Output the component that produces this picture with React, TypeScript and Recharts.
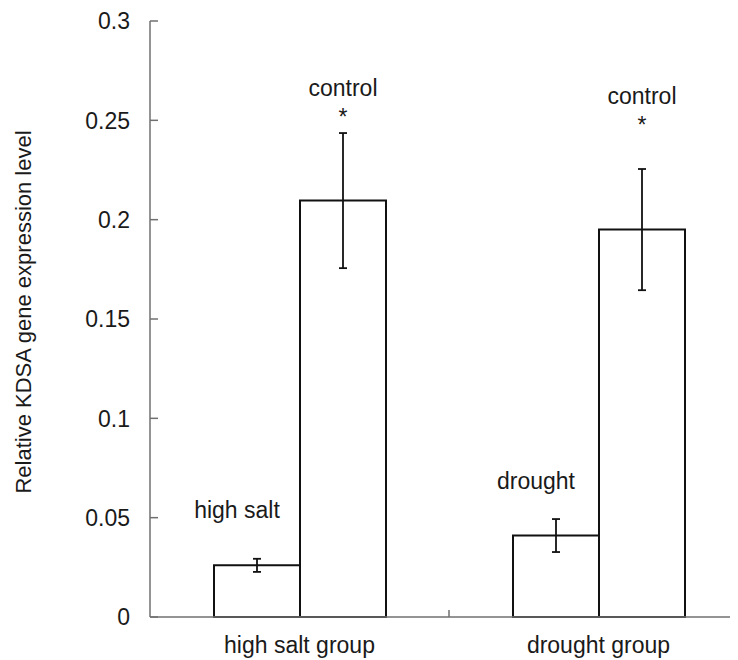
import React from "react";
import { BarChart, Bar, XAxis, YAxis, ErrorBar, LabelList } from "recharts";

const categories = ["high salt group", "drought group"];
const treatmentValues = [0.026, 0.041];
const treatmentErrors = [0.0033, 0.0083];
const controlValues = [0.2096, 0.195];
const controlErrors = [0.034, 0.0305];
const treatmentLabels = ["high salt", "drought"];
const controlLabels = ["control", "control"];
// where the "control" annotation sits (data units)
const controlLabelLevels = [0.262, 0.258];
const yTicks = [0, 0.05, 0.1, 0.15, 0.2, 0.25, 0.3];

const data = categories.map((name, i) => ({
  name,
  treatment: treatmentValues[i],
  treatmentErr: treatmentErrors[i],
  control: controlValues[i],
  controlErr: controlErrors[i],
}));

const FONT = "'Liberation Sans', Arial, sans-serif";
const TEXT = "#1a1a1a";
const AXIS = "#707070";
const INK = "#111";

const CHART_W = 760;
const CHART_H = 650;
const Y_W = 142;
const RIGHT = 20;
const HALF_BAND = (CHART_W - Y_W - RIGHT) / categories.length / 2;

const YTick = ({ x, y, payload }: any) => (
  <g>
    <line x1={x} x2={x + 8} y1={y} y2={y} stroke={AXIS} strokeWidth={1.5} />
    <text x={x - 20} y={y} dy="0.36em" textAnchor="end" fontSize={23} fontFamily={FONT} fill={TEXT}>
      {String(payload.value)}
    </text>
  </g>
);

const XTick = ({ x, y, payload }: any) => (
  <g>
    <line x1={x + HALF_BAND} x2={x + HALF_BAND} y1={y} y2={y - 7} stroke={AXIS} strokeWidth={1.5} />
    <text x={x} y={y + 36} textAnchor="middle" fontSize={23} fontFamily={FONT} fill={TEXT}>
      {payload.value}
    </text>
  </g>
);

const TreatmentLabel = ({ x, y, width, index }: any) => (
  <text x={x + width / 2 - 20} y={y - 47} textAnchor="middle" fontSize={23} fontFamily={FONT} fill={TEXT}>
    {treatmentLabels[index]}
  </text>
);

const ControlLabel = ({ x, y, width, height, value, index }: any) => {
  const base = y + height;
  const ly = base - (controlLabelLevels[index] * height) / value;
  const cx = x + width / 2;
  return (
    <g>
      <text x={cx} y={ly} textAnchor="middle" fontSize={23} fontFamily={FONT} fill={TEXT}>
        {controlLabels[index]}
      </text>
      <text x={cx} y={ly + 29} textAnchor="middle" fontSize={23} fontFamily={FONT} fill={TEXT}>
        *
      </text>
    </g>
  );
};

export default function App() {
  return (
    <div style={{ width: 730, height: CHART_H, overflow: "hidden", background: "#fff" }}>
      <BarChart
        width={CHART_W}
        height={CHART_H}
        data={data}
        margin={{ top: 13, right: RIGHT, left: 0, bottom: 0 }}
        barGap={0}
        barCategoryGap={64}
      >
        <XAxis
          dataKey="name"
          height={41}
          axisLine={{ stroke: AXIS, strokeWidth: 1.5 }}
          tickLine={false}
          tickSize={0}
          tickMargin={0}
          tick={<XTick />}
          interval={0}
        />
        <YAxis
          width={Y_W}
          domain={[0, 0.3]}
          ticks={yTicks}
          interval={0}
          axisLine={{ stroke: AXIS, strokeWidth: 1.5 }}
          tickLine={false}
          tickSize={0}
          tickMargin={0}
          tick={<YTick />}
          label={{
            content: () => (
              <text
                x={23}
                y={304}
                transform="rotate(-90, 23, 304)"
                textAnchor="middle"
                fontSize={22}
                fontFamily={FONT}
                fill={TEXT}
              >
                Relative KDSA gene expression level
              </text>
            ),
          }}
        />
        <Bar dataKey="treatment" fill="#fff" stroke={INK} strokeWidth={2} isAnimationActive={false}>
          <ErrorBar dataKey="treatmentErr" width={4} stroke={INK} strokeWidth={1.8} />
          <LabelList dataKey="treatment" content={<TreatmentLabel />} />
        </Bar>
        <Bar dataKey="control" fill="#fff" stroke={INK} strokeWidth={2} isAnimationActive={false}>
          <ErrorBar dataKey="controlErr" width={4} stroke={INK} strokeWidth={1.8} />
          <LabelList dataKey="control" content={<ControlLabel />} />
        </Bar>
      </BarChart>
    </div>
  );
}
